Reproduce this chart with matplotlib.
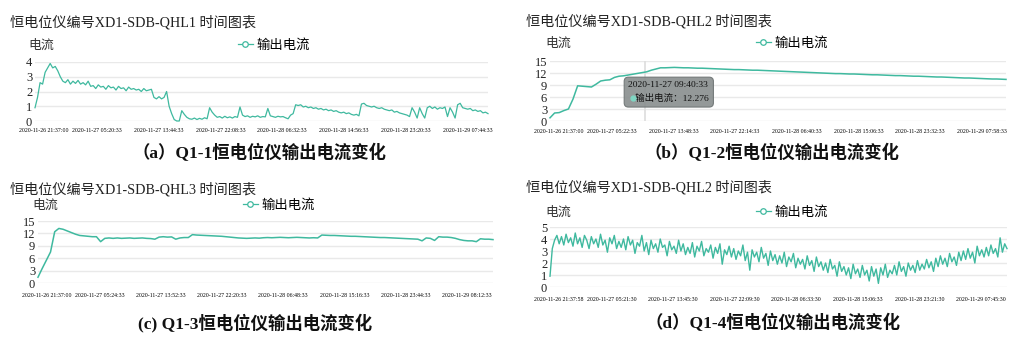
import matplotlib
matplotlib.use("Agg")
import matplotlib.pyplot as plt
import matplotlib.transforms as mtransforms
from matplotlib.lines import Line2D
import numpy as np

plt.rcParams['font.family'] = ['Liberation Serif', 'Noto Sans CJK SC']

W, H = 1028, 343
LINE_COLOR = '#3fb99f'
GRID_COLOR = '#e9e9e9'
TICK_STEP = 300  # records between two axis labels

# ---------------- data ----------------
titles = ['恒电位仪编号XD1-SDB-QHL1 时间图表', '恒电位仪编号XD1-SDB-QHL2 时间图表',
          '恒电位仪编号XD1-SDB-QHL3 时间图表', '恒电位仪编号XD1-SDB-QHL2 时间图表']
captions = ['（a）Q1-1恒电位仪输出电流变化', '（b）Q1-2恒电位仪输出电流变化',
            '(c) Q1-3恒电位仪输出电流变化', '（d）Q1-4恒电位仪输出电流变化']
series_name = '输出电流'
y_name = '电流'

ticks_a = ['2020-11-26 21:37:00', '2020-11-27 05:20:33', '2020-11-27 13:44:33', '2020-11-27 22:08:33',
           '2020-11-28 06:32:33', '2020-11-28 14:56:33', '2020-11-28 23:20:33', '2020-11-29 07:44:33']
ticks_b = ['2020-11-26 21:37:00', '2020-11-27 05:22:33', '2020-11-27 13:48:33', '2020-11-27 22:14:33',
           '2020-11-28 06:40:33', '2020-11-28 15:06:33', '2020-11-28 23:32:33', '2020-11-29 07:58:33']
ticks_c = ['2020-11-26 21:37:00', '2020-11-27 05:24:33', '2020-11-27 13:52:33', '2020-11-27 22:20:33',
           '2020-11-28 06:48:33', '2020-11-28 15:16:33', '2020-11-28 23:44:33', '2020-11-29 08:12:33']
ticks_d = ['2020-11-26 21:37:58', '2020-11-27 05:21:30', '2020-11-27 13:45:30', '2020-11-27 22:09:30',
           '2020-11-28 06:33:30', '2020-11-28 15:06:33', '2020-11-28 23:21:30', '2020-11-29 07:45:30']

# number of records per series
n_a, n_b, n_c, n_d = 2201, 2218, 2227, 2227

vals_a = [
    0.9, 1.6, 2.6, 2.5, 3.3, 3.6, 3.9, 3.6, 3.7, 3.4,
    3.0, 2.7, 2.6, 2.8, 2.5, 2.7, 2.55, 2.75, 2.5, 2.6,
    2.45, 2.7, 2.35, 2.4, 2.2, 2.45, 2.3, 2.35, 2.15, 2.4,
    2.25, 2.3, 2.1, 2.35, 2.2, 2.25, 2.05, 2.3, 2.15, 2.2,
    2.1, 2.15, 2.0, 2.2, 2.05, 2.1, 2.15, 1.6, 1.5, 1.65,
    1.5, 1.6, 2.0, 1.0, 0.5, 0.1, 0.0, 0.0, 0.7, 0.45,
    0.25, 0.15, 0.12, 0.2, 0.1, 0.18, 0.12, 0.22, 0.15, 0.9,
    0.6, 0.4, 0.25, 0.3, 0.2, 0.32, 0.22, 0.28, 0.2, 0.3,
    0.25, 0.95, 0.4, 0.3, 0.35, 0.25, 0.32, 0.28, 0.35, 0.25,
    0.3, 0.28, 0.85, 0.35, 0.3, 0.25, 0.32, 0.28, 0.3, 0.22,
    0.15, 0.4, 0.5, 1.1, 1.05, 1.1, 0.95, 1.0, 0.9, 0.95,
    0.85, 0.9, 0.8, 0.85, 0.75, 0.8, 0.7, 0.75, 0.65, 0.7,
    0.6, 0.55, 0.6, 0.5, 0.55, 0.45, 0.4, 0.45, 0.35, 1.15,
    1.2, 1.05, 1.0, 0.95, 1.0, 0.9, 0.85, 0.9, 0.8, 0.75,
    0.7, 0.75, 0.6, 0.65, 0.55, 0.5, 0.45, 0.4, 0.3, 0.9,
    0.6, 0.2, 0.9, 0.5, 0.2, 0.9, 1.0, 0.85, 0.95, 0.8,
    0.9, 0.85, 0.95, 0.3, 0.9, 0.6, 0.2, 1.1, 1.2, 0.9,
    0.85, 0.8, 0.85, 0.7, 0.75, 0.65, 0.7, 0.55, 0.6, 0.5,
]

vals_b = [
    0.8, 2.0, 2.1, 2.6, 3.0, 5.5, 8.8, 8.7, 8.6, 8.5,
    9.2, 10.0, 10.2, 10.3, 10.9, 11.2, 11.3, 11.5, 11.7, 11.9,
    12.1, 12.3, 12.7, 13.0, 13.3, 13.3, 13.35, 13.4, 13.35, 13.3,
    13.3, 13.25, 13.2, 13.2, 13.15, 13.1, 13.05, 13.0, 12.95, 12.9,
    12.85, 12.85, 12.8, 12.75, 12.7, 12.7, 12.65, 12.6, 12.55, 12.5,
    12.45, 12.4, 12.35, 12.3, 12.25, 12.2, 12.15, 12.1, 12.05, 12.0,
    11.95, 11.9, 11.85, 11.85, 11.8, 11.75, 11.75, 11.7, 11.65, 11.6,
    11.55, 11.55, 11.5, 11.45, 11.4, 11.35, 11.35, 11.3, 11.25, 11.2,
    11.2, 11.15, 11.1, 11.05, 11.0, 11.0, 10.95, 10.9, 10.85, 10.8,
    10.75, 10.75, 10.7, 10.65, 10.6, 10.55, 10.5, 10.5, 10.45, 10.4,
]
tooltip_time = '2020-11-27 09:40:33'
tooltip_value = 12.276
tooltip_record = 462

vals_c = [
    1.4, 3.5, 5.5, 7.5, 12.4, 13.2, 13.0, 12.6, 12.2, 11.8,
    11.5, 11.4, 11.3, 11.2, 11.2, 10.0, 10.8, 10.9, 10.8, 10.9,
    10.8, 10.85, 10.9, 10.8, 10.85, 10.9, 10.8, 10.75, 10.6, 11.1,
    11.2, 11.1, 11.15, 10.6, 10.9, 11.0, 11.0, 11.7, 11.6, 11.55,
    11.5, 11.45, 11.4, 11.35, 11.3, 11.2, 11.1, 11.0, 10.9, 10.85,
    10.8, 10.85, 10.9, 10.85, 10.95, 11.0, 10.95, 11.0, 11.05, 11.0,
    10.95, 11.0, 11.05, 11.0, 10.95, 10.9, 10.95, 10.9, 11.6, 11.55,
    11.5, 11.5, 11.45, 11.4, 11.35, 11.3, 11.3, 11.25, 11.2, 11.15,
    11.1, 11.05, 11.0, 11.0, 10.95, 10.9, 10.85, 10.8, 10.75, 10.7,
    10.65, 10.6, 10.2, 10.9, 10.8, 10.3, 11.2, 11.1, 11.1, 11.0,
    10.8, 10.5, 10.3, 10.2, 10.2, 10.0, 10.7, 10.6, 10.6, 10.5,
]

vals_d = [
    0.9, 3.2, 3.9, 4.3, 3.6, 4.2, 3.5, 4.4, 3.7, 4.1,
    3.4, 4.5, 3.6, 4.1, 3.3, 4.3, 3.9, 3.2, 4.2, 3.6,
    4.0, 3.3, 4.4, 3.5, 3.9, 2.9, 4.1, 3.6, 4.3, 3.2,
    3.8, 3.3, 4.0, 3.1, 4.2, 3.5, 3.9, 2.8, 3.7, 3.4,
    4.3, 3.0, 3.7, 2.7, 3.9, 3.2, 3.6, 2.9, 4.0, 3.3,
    3.5, 2.6, 3.8, 3.1, 3.4, 2.8, 3.9, 3.0, 3.6, 2.7,
    3.3, 2.8, 3.7, 2.5, 3.4, 3.0, 3.8, 2.6, 3.2, 2.9,
    3.5, 2.4, 3.3, 2.8, 3.6, 1.9, 3.1, 2.7, 3.4, 2.5,
    3.2, 2.3, 3.0, 2.6, 3.5, 2.2, 2.9, 1.4, 3.1, 2.5,
    2.9, 2.1, 3.3, 2.4, 2.8, 1.8, 3.0, 2.2, 2.7, 1.9,
    2.6, 2.0, 2.9, 1.7, 2.5, 2.1, 2.8, 1.6, 2.4, 1.9,
    2.3, 1.5, 2.6, 1.8, 2.2, 1.3, 2.5, 1.7, 2.1, 1.4,
    2.0, 1.2, 2.3, 1.5, 1.8, 0.9, 2.1, 1.3, 1.7, 1.0,
    1.6, 0.7, 1.9, 1.1, 1.5, 0.8, 1.8, 1.0, 1.4, 0.5,
    1.7, 0.9, 1.5, 0.3, 1.6, 1.0, 1.9, 0.8, 1.4, 1.1,
    1.8, 1.0, 2.1, 1.3, 1.7, 0.9, 2.0, 1.4, 1.8, 1.2,
    2.2, 1.4, 1.9, 1.5, 2.3, 1.6, 2.1, 1.3, 2.4, 1.7,
    2.6, 1.9, 2.4, 1.7, 2.8, 2.1, 2.5, 1.8, 2.9, 2.2,
    3.0, 2.3, 3.2, 2.4, 2.9, 2.0, 3.4, 2.6, 3.1, 2.5,
    3.3, 2.6, 3.5, 2.8, 3.2, 2.5, 4.1, 2.9, 3.6, 3.2,
]

fig = plt.figure(figsize=(W / 100, H / 100), dpi=100)
fig.patch.set_facecolor('white')


def fx(x):
    return x / W


def fy(y):
    return 1 - y / H


def draw_panel(box, values, n_rec, ymax, ystep, ticks, title, title_pos,
               ylab_pos, legend_pos, caption, caption_pos, xpad, lw=0.9):
    x0, y0, x1, y1 = box
    ax = fig.add_axes([fx(x0), fy(y1), (x1 - x0) / W, (y1 - y0) / H])
    x = np.linspace(0, n_rec - 1, len(values))
    ax.plot(x, values, color=LINE_COLOR, lw=lw, clip_on=False, zorder=3)
    ax.set_xlim(0, n_rec - 1)
    ax.set_ylim(0, ymax)
    ax.set_yticks(np.arange(0, ymax + 0.01, ystep))
    ax.set_xticks(np.arange(len(ticks)) * TICK_STEP)
    ax.set_xticklabels(ticks)
    ax.tick_params(axis='x', length=0, pad=xpad, labelsize=4.2, labelcolor='#000000')
    ax.tick_params(axis='y', length=0, pad=2, labelsize=9, labelcolor='#222222')
    # first label sits a bit to the right like the original
    lab0 = ax.get_xticklabels()[0]
    lab0.set_transform(lab0.get_transform() +
                       mtransforms.ScaledTranslation(9 / 100, 0, fig.dpi_scale_trans))
    for s in ax.spines.values():
        s.set_visible(False)
    ax.grid(axis='y', color=GRID_COLOR, lw=1.0)
    ax.set_axisbelow(True)

    fig.text(fx(title_pos[0]), fy(title_pos[1]), title, fontsize=10.2,
             ha='left', va='center', color='#222222')
    fig.text(fx(ylab_pos[0]), fy(ylab_pos[1]), y_name, fontsize=9.3,
             family=['Noto Sans CJK SC'], ha='left', va='center', color='#333333')
    handle = Line2D([], [], color=LINE_COLOR, lw=0.9, marker='o', ms=4,
                    mfc='white', mec=LINE_COLOR, mew=0.9)
    ax.legend([handle], [series_name], loc='center',
              bbox_to_anchor=(fx(legend_pos[0]), fy(legend_pos[1])),
              bbox_transform=fig.transFigure, frameon=False,
              handlelength=1.1, handletextpad=0.3, borderpad=0,
              prop={'family': ['Noto Sans CJK SC'], 'size': 9.6})
    fig.text(fx(caption_pos[0]), fy(caption_pos[1]), caption, fontsize=12.5,
             fontweight='bold', ha='center', va='center', color='#111111')
    return ax


ax_a = draw_panel((35, 62, 488, 121), vals_a, n_a, 4, 1, ticks_a, titles[0], (10, 22),
                  (28, 45), (274, 45), captions[0], (259, 153), 5)
ax_b = draw_panel((550, 61, 1006, 121), vals_b, n_b, 15, 3, ticks_b, titles[1], (526, 21),
                  (545, 43), (792, 43), captions[1], (772, 153), 5.5, lw=1.1)
ax_c = draw_panel((38, 221, 493, 283), vals_c, n_c, 15, 3, ticks_c, titles[2], (10, 189),
                  (32, 205), (279, 205), captions[2], (255, 323), 7.5, lw=1.1)
ax_d = draw_panel((550, 227, 1007, 287), vals_d, n_d, 5, 1, ticks_d, titles[3], (526, 187),
                  (545, 212), (792, 212), captions[3], (773, 323), 7.5, lw=1.0)

# tooltip on panel (b)
ax_b.axvline(tooltip_record, color='#dddddd', lw=1.2, zorder=1)
ax_b.text(0.172, 0.66, tooltip_time + '\n   ' + series_name + '：' + str(tooltip_value),
          transform=ax_b.transAxes, fontsize=6.8, va='top', ha='left', color='#111111',
          linespacing=1.6, zorder=5,
          bbox=dict(boxstyle='round,pad=0.45', fc='#888e8e', ec='#6d7373', lw=0.8, alpha=0.9))
ax_b.plot([0.182], [0.39], transform=ax_b.transAxes, marker='o', ms=3.5,
          color='#7fd6c3', zorder=6, clip_on=False)

fig.savefig('out.png', dpi=100)
